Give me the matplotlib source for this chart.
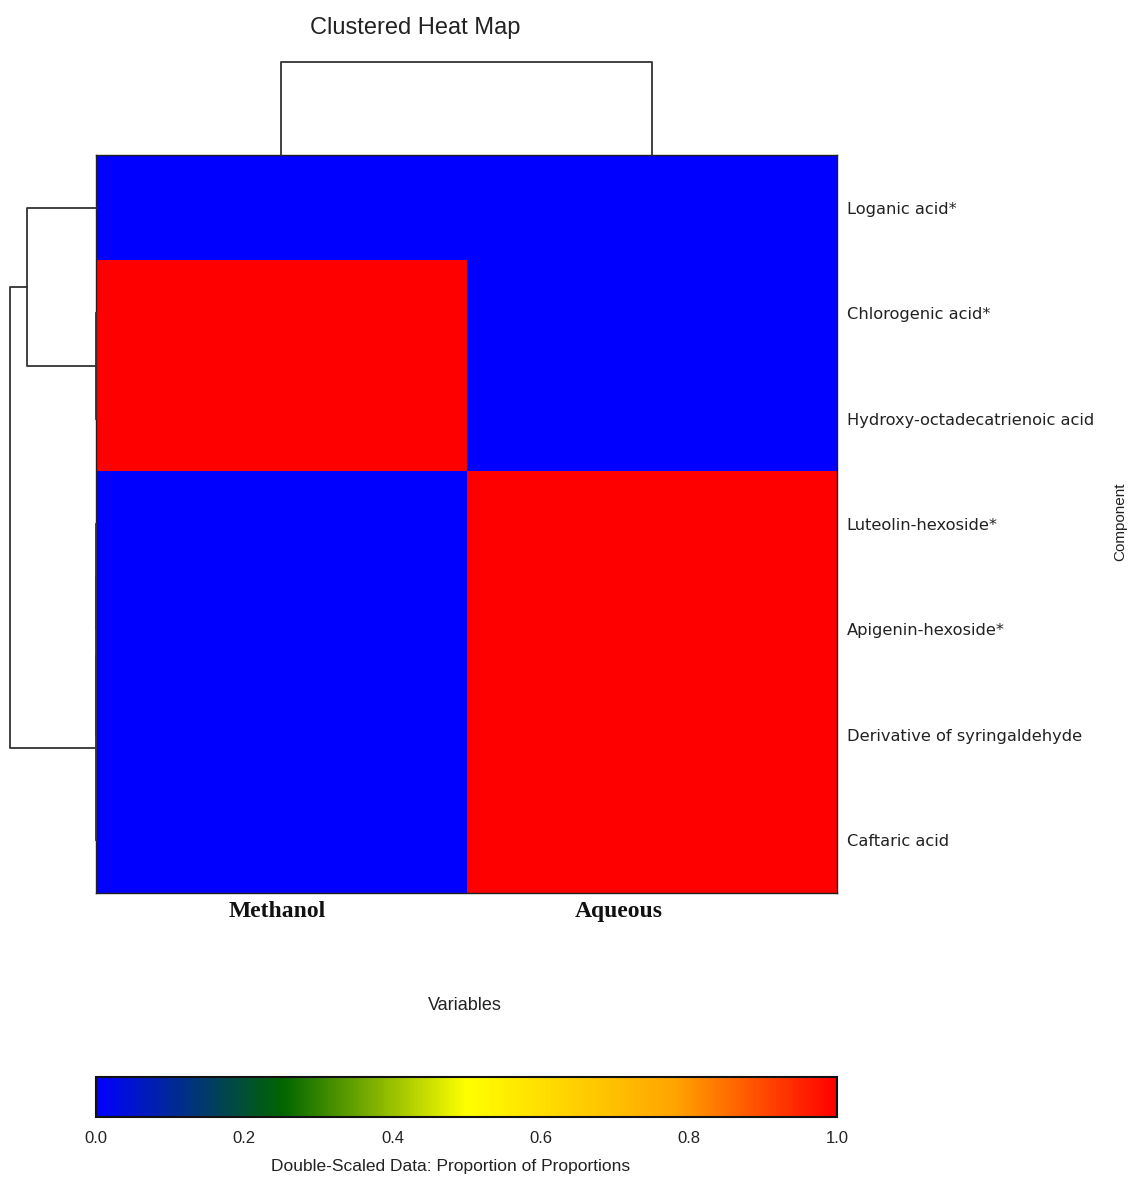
import matplotlib
matplotlib.use("Agg")
import matplotlib.pyplot as plt
import numpy as np
from matplotlib.colors import LinearSegmentedColormap

## Data
components = ["Loganic acid*", "Chlorogenic acid*", "Hydroxy-octadecatrienoic acid",
              "Luteolin-hexoside*", "Apigenin-hexoside*", "Derivative of syringaldehyde",
              "Caftaric acid"]
variables = ["Methanol", "Aqueous"]
methanol = [0, 1, 1, 0, 0, 0, 0]
aqueous = [0, 0, 0, 1, 1, 1, 1]

# merges: (child a, child b, height); leaves 0..n-1, new clusters n, n+1, ...
row_merges = [(1, 2, 0.0), (3, 4, 0.0), (8, 5, 0.0), (9, 6, 0.0), (0, 7, 1.13), (11, 10, 1.414)]
col_merges = [(0, 1, 1.414)]

cbar_ticks = [0.0, 0.2, 0.4, 0.6, 0.8, 1.0]
cmap = LinearSegmentedColormap.from_list(
    "dsd", [(0.0, "#0000ff"), (0.25, "#006400"), (0.5, "#ffff00"), (0.78, "#ffa500"), (1.0, "#ff0000")])

W, H = 1131, 1180


def fx(px):
    return px / W


def fy(py):
    return 1 - py / H


def dendro_lines(merges, n):
    # returns list of (heights, positions) polylines for each merge
    pos = [i + 0.5 for i in range(n)]
    hgt = [0.0] * n
    lines = []
    for a, b, h in merges:
        lines.append(([hgt[a], h, h, hgt[b]], [pos[a], pos[a], pos[b], pos[b]]))
        pos.append((pos[a] + pos[b]) / 2)
        hgt.append(h)
    return lines


data = np.column_stack([methanol, aqueous])
n_rows, n_cols = data.shape

fig = plt.figure(figsize=(W / 100, H / 100), dpi=100)

# Heat map
ax = fig.add_axes([fx(96), fy(893), fx(837) - fx(96), fy(155) - fy(893)])
mesh = ax.pcolormesh(np.arange(n_cols + 1), np.arange(n_rows + 1), data, cmap=cmap, vmin=0, vmax=1)
ax.set_xlim(0, n_cols)
ax.set_ylim(n_rows, 0)
ax.yaxis.tick_right()
ax.set_yticks(np.arange(n_rows) + 0.5)
ax.set_yticklabels(components, fontsize=11.7, family="DejaVu Sans", color="#222222")
ax.set_xticks([0.49, 1.41])
ax.set_xticklabels(variables, fontsize=17, family="Liberation Serif", fontweight="bold", color="#111111")
ax.tick_params(axis="both", length=0)
ax.tick_params(axis="y", pad=7)
ax.tick_params(axis="x", pad=6)
for s in ax.spines.values():
    s.set_color("#202020")
    s.set_linewidth(1.0)

# Row dendrogram (left)
axl = fig.add_axes([fx(10), fy(893), fx(96) - fx(10), fy(155) - fy(893)], sharey=ax)
for hs, ps in dendro_lines(row_merges, n_rows):
    axl.plot(hs, ps, color="#333333", lw=1.3, clip_on=False)
axl.set_xlim(max(m[2] for m in row_merges), 0)
axl.set_ylim(n_rows, 0)
axl.axis("off")

# Column dendrogram (top)
axt = fig.add_axes([fx(96), fy(155), fx(837) - fx(96), fy(62) - fy(155)], sharex=ax)
for hs, ps in dendro_lines(col_merges, n_cols):
    axt.plot(ps, hs, color="#333333", lw=1.3, clip_on=False)
axt.set_ylim(0, max(m[2] for m in col_merges))
axt.set_xlim(0, n_cols)
axt.axis("off")

# Colour bar
cax = fig.add_axes([fx(96), fy(1117), fx(837) - fx(96), fy(1077) - fy(1117)])
cb = fig.colorbar(mesh, cax=cax, orientation="horizontal", ticks=cbar_ticks)
cb.ax.set_xticklabels(["%.1f" % t for t in cbar_ticks], fontsize=12, family="Liberation Sans", color="#222222")
cb.ax.tick_params(length=0, pad=10)
cb.outline.set_linewidth(1.5)
cb.outline.set_edgecolor("#111111")
cb.set_label("Double-Scaled Data: Proportion of Proportions", fontsize=12.5,
             family="Liberation Sans", color="#222222", labelpad=9)
cb.ax.xaxis.set_label_coords((451 - 96) / 741, -1.05)

# Titles
fig.text(fx(415), fy(28), "Clustered Heat Map", ha="center", va="center", fontsize=17,
         family="Liberation Sans", color="#222222")
fig.text(fx(465), fy(1005), "Variables", ha="center", va="center", fontsize=13,
         family="Liberation Sans", color="#222222")
fig.text(fx(1120), fy(522), "Component", ha="center", va="center", rotation=90, fontsize=11,
         family=["Liberation Sans Narrow", "Liberation Sans"], color="#222222")

fig.savefig("out.png", dpi=100)
